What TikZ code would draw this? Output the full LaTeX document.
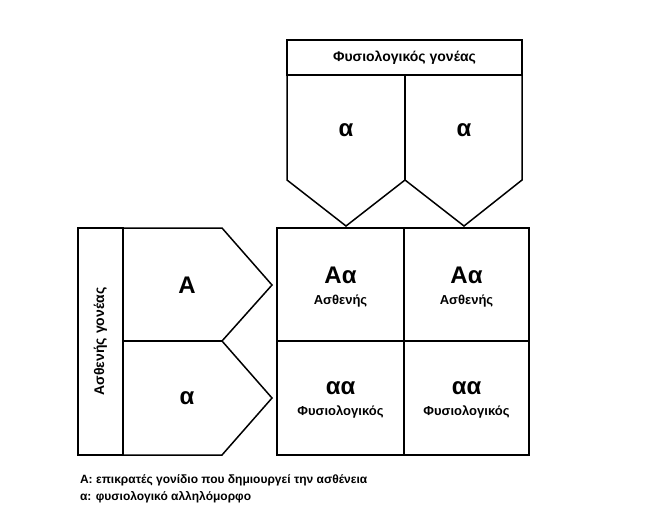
\documentclass[tikz,border=0pt]{standalone}
\usepackage{fontspec}
\setmainfont{Liberation Sans}
\begin{document}
\begin{tikzpicture}[x=1pt,y=-1pt,line width=1.5pt,
  big/.style={font=\bfseries\fontsize{24}{26}\selectfont},
  captext/.style={font=\bfseries\fontsize{12}{14}\selectfont,anchor=west}]
\useasboundingbox (0,0) rectangle (663,531);
% top header
\draw (287,40) rectangle (522,75);
\node[font=\bfseries\fontsize{14}{16}\selectfont] (hdr) at (404.5,57.5) {Φυσιολογικός γονέας};
\draw (287,75) -- (287,180) -- (346,226) -- (405,180) -- (464,226) -- (522,180) -- (522,75);
\draw (405,75) -- (405,180);
\node[big] (t1) at (346,130) {α};
\node[big] (t2) at (464,130) {α};
% left
\draw (78,228) rectangle (123,455);
\node[rotate=90,font=\bfseries\fontsize{14}{16}\selectfont] (lhdr) at (100.5,341.5) {Ασθενής γονέας};
\draw (123,228) -- (222,228) -- (272,285) -- (222,341) -- (272,398) -- (222,455) -- (123,455);
\draw (123,341) -- (222,341);
\node[big] (l1) at (187,285) {A};
\node[big] (l2) at (187,398) {α};
% grid
\draw (277,228) rectangle (529,455);
\draw (404,228) -- (404,455);
\draw (277,341) -- (529,341);
\node[big,align=center] (c1) at (340.5,287) {Aα\\[-5pt]\fontsize{13}{14}\selectfont Ασθενής};
\node[big,align=center] (c2) at (466.5,287) {Aα\\[-5pt]\fontsize{13}{14}\selectfont Ασθενής};
\node[big,align=center] (c3) at (340.5,400) {αα\\[-5pt]\fontsize{13}{14}\selectfont Φυσιολογικός};
\node[big,align=center] (c4) at (466.5,400) {αα\\[-5pt]\fontsize{13}{14}\selectfont Φυσιολογικός};
% caption
\node[captext] (k1) at (76,480) {A: επικρατές γονίδιο που δημιουργεί την ασθένεια};
\node[captext] (k2) at (76,497) {α: φυσιολογικό αλληλόμορφο};
\end{tikzpicture}
\end{document}
